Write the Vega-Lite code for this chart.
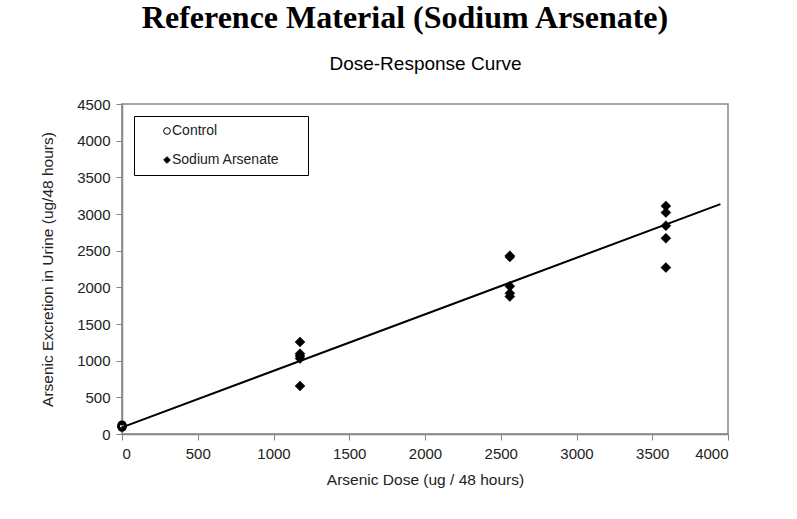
{
  "$schema": "https://vega.github.io/schema/vega-lite/v6.json",
  "autosize": "none",
  "padding": {"left": 122, "top": 104, "right": 69, "bottom": 85},
  "background": "white",
  "width": 606,
  "height": 330,
  "title": {
    "text": "Reference Material (Sodium Arsenate)",
    "font": "Liberation Serif",
    "fontSize": 32,
    "fontWeight": "bold",
    "color": "black",
    "anchor": "middle",
    "baseline": "alphabetic",
    "offset": -6,
    "dx": -20
  },
  "datasets": {
    "points": [
      {"dose": 0, "excretion": 92, "group": "Control"},
      {"dose": 0, "excretion": 100, "group": "Control"},
      {"dose": 0, "excretion": 108, "group": "Control"},
      {"dose": 0, "excretion": 115, "group": "Control"},
      {"dose": 0, "excretion": 122, "group": "Control"},
      {"dose": 1175, "excretion": 1255, "group": "Sodium Arsenate"},
      {"dose": 1175, "excretion": 1095, "group": "Sodium Arsenate"},
      {"dose": 1175, "excretion": 1065, "group": "Sodium Arsenate"},
      {"dose": 1175, "excretion": 1030, "group": "Sodium Arsenate"},
      {"dose": 1175, "excretion": 655, "group": "Sodium Arsenate"},
      {"dose": 2560, "excretion": 2430, "group": "Sodium Arsenate"},
      {"dose": 2560, "excretion": 2415, "group": "Sodium Arsenate"},
      {"dose": 2560, "excretion": 2015, "group": "Sodium Arsenate"},
      {"dose": 2560, "excretion": 1920, "group": "Sodium Arsenate"},
      {"dose": 2560, "excretion": 1875, "group": "Sodium Arsenate"},
      {"dose": 3590, "excretion": 3110, "group": "Sodium Arsenate"},
      {"dose": 3590, "excretion": 3020, "group": "Sodium Arsenate"},
      {"dose": 3590, "excretion": 2840, "group": "Sodium Arsenate"},
      {"dose": 3590, "excretion": 2670, "group": "Sodium Arsenate"},
      {"dose": 3590, "excretion": 2270, "group": "Sodium Arsenate"}
    ],
    "fit": [
      {"dose": 0, "excretion": 90},
      {"dose": 3950, "excretion": 3135}
    ]
  },
  "encoding": {
    "y": {
      "field": "excretion",
      "type": "quantitative",
      "scale": {"domain": [0, 4500], "nice": false, "zero": false},
      "axis": {"title": "Arsenic Excretion in Urine (ug/48 hours)", "values": [0, 500, 1000, 1500, 2000, 2500, 3000, 3500, 4000, 4500], "format": "d", "titlePadding": 21}
    }
  },
  "layer": [
    {
      "data": {"name": "fit"},
      "mark": {"type": "line", "color": "black", "strokeWidth": 2},
      "encoding": {
        "x": {
          "field": "dose",
          "type": "quantitative",
          "scale": {"domain": [0, 4000], "nice": false, "zero": false},
          "axis": {"orient": "top", "title": "Dose-Response Curve", "labels": false, "ticks": false, "domain": false, "titleFontSize": 19, "titleColor": "black", "titleBaseline": "alphabetic", "titlePadding": 35}
        }
      }
    },
    {
      "data": {"name": "points"},
      "encoding": {
        "x": {
          "field": "dose",
          "type": "quantitative",
          "scale": {"domain": [0, 4000], "nice": false, "zero": false},
          "axis": {"orient": "bottom", "title": "Arsenic Dose (ug / 48 hours)", "values": [0, 500, 1000, 1500, 2000, 2500, 3000, 3500, 4000], "format": "d", "titlePadding": 11}
        },
        "shape": {"field": "group", "type": "nominal", "scale": {"domain": ["Control", "Sodium Arsenate"], "range": ["circle", "diamond"]}, "legend": {"title": null, "labelExpr": "datum.label + '\u2800\u2800'"}},
        "fill": {"field": "group", "type": "nominal", "scale": {"domain": ["Control", "Sodium Arsenate"], "range": ["transparent", "black"]}, "legend": {"title": null, "labelExpr": "datum.label + '\u2800\u2800'"}},
        "stroke": {"field": "group", "type": "nominal", "scale": {"domain": ["Control", "Sodium Arsenate"], "range": ["black", "black"]}, "legend": {"title": null, "labelExpr": "datum.label + '\u2800\u2800'"}}
      },
      "layer": [
        {
          "transform": [{"filter": "datum.group === 'Control'"}],
          "mark": {"type": "point", "filled": true, "size": 50, "strokeWidth": 2, "opacity": 1}
        },
        {
          "transform": [{"filter": "datum.group === 'Sodium Arsenate'"}],
          "mark": {"type": "point", "filled": true, "size": 100, "strokeWidth": 0.5, "opacity": 1}
        }
      ]
    }
  ],
  "resolve": {"scale": {"x": "independent"}, "axis": {"x": "independent"}},
  "config": {
    "font": "Liberation Sans",
    "view": {"stroke": "#868686", "strokeWidth": 1.5},
    "axis": {
      "grid": false,
      "domainColor": "#868686",
      "domainWidth": 1.5,
      "tickColor": "#868686",
      "tickSize": 6,
      "tickWidth": 1,
      "labelFont": "Liberation Sans",
      "labelFontSize": 15,
      "labelColor": "#222222",
      "labelPadding": 6,
      "titleFont": "Liberation Sans",
      "titleFontSize": 15.5,
      "titleFontWeight": "normal",
      "titleColor": "#222222"
    },
    "axisBottom": {"labelPadding": 6},
    "legend": {
      "orient": "top-left",
      "offset": 12,
      "padding": 8,
      "rowPadding": 15,
      "strokeColor": "black",
      "strokeWidth": 1,
      "fillColor": "white",
      "symbolSize": 45,
      "symbolStrokeWidth": 1,
      "symbolOffset": 18,
      "labelOffset": -2,
      "labelFont": "Liberation Sans",
      "labelFontSize": 14,
      "labelColor": "#222222"
    }
  }
}
